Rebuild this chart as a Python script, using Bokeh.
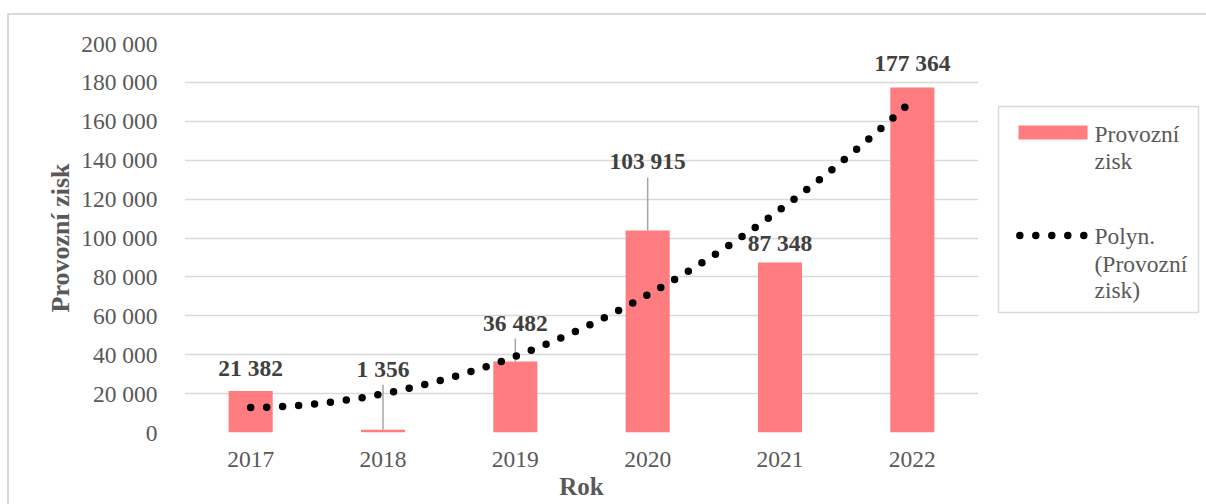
import numpy as np
from bokeh.plotting import figure
from bokeh.layouts import row
from bokeh.models import Range1d, FixedTicker, ColumnDataSource, LabelSet
from bokeh.core.properties import value
from bokeh.embed import file_html
from bokeh.resources import INLINE

# --- data -------------------------------------------------------------
years = ["2017", "2018", "2019", "2020", "2021", "2022"]
provozni_zisk = [21382, 1356, 36482, 103915, 87348, 177364]
y_ticks = [0, 20000, 40000, 60000, 80000, 100000, 120000, 140000, 160000, 180000, 200000]
y_tick_labels = ["0", "20 000", "40 000", "60 000", "80 000", "100 000",
                 "120 000", "140 000", "160 000", "180 000", "200 000"]
series_name = "Provozní zisk"
series_legend_lines = ["Provozní", "zisk"]
trend_legend_lines = ["Polyn.", "(Provozní", "zisk)"]

# --- styling ----------------------------------------------------------
FONT = "Liberation Serif"
BAR_COLOR = "#FF7C80"
GRID_COLOR = "#D9D9D9"
TEXT_COLOR = "#595959"
LABEL_COLOR = "#404040"
Y_MAX = 200000
FRAME_H = 389
CANVAS_H = 489
BORDER_TOP = 28
BORDER_BOTTOM = CANVAS_H - BORDER_TOP - FRAME_H
PAGE_TOP = 15          # page offset of both canvases (margin + border line)
MAIN_W = 969
DOT_W = 7.5
DOT_DASH = "0 16"

# distance (px) of each value label above its bar; lifted ones get a leader line
label_lift = [23, 61, 39, 69, 20, 25]
has_leader = [False, True, True, True, False, False]

x = np.arange(len(years))
values = np.array(provozni_zisk, dtype=float)


def fmt(v):
    return f"{int(v):,}".replace(",", " ")


px_to_data = Y_MAX / FRAME_H
leader_top = [v + (lift - 16) * px_to_data for v, lift in zip(values, label_lift)]

src = ColumnDataSource(dict(
    x=x, y=values, label=[fmt(v) for v in values], lift=label_lift,
))
lead_src = ColumnDataSource(dict(
    x=[xi for xi, h in zip(x, has_leader) if h],
    y0=[v for v, h in zip(values, has_leader) if h],
    y1=[t for t, h in zip(leader_top, has_leader) if h],
))

# second-order polynomial trend through the yearly values
coef = np.polyfit(x, values, 2)
tx = np.linspace(x[0], x[-1], 400)
trend_src = ColumnDataSource(dict(x=tx, y=np.polyval(coef, tx)))

# --- main chart -------------------------------------------------------
p = figure(width=MAIN_W, height=CANVAS_H, output_backend="svg", toolbar_location=None,
           x_range=Range1d(-0.5, len(years) - 0.5), y_range=Range1d(0, Y_MAX),
           min_border_left=175, min_border_right=0,
           min_border_top=BORDER_TOP, min_border_bottom=BORDER_BOTTOM)
p.outline_line_color = None
p.background_fill_color = "white"
p.border_fill_color = "white"

p.xgrid.grid_line_color = None
p.ygrid.grid_line_color = GRID_COLOR
p.ygrid.grid_line_width = 1.5
p.yaxis.ticker = FixedTicker(ticks=y_ticks)
p.yaxis.major_label_overrides = {t: s for t, s in zip(y_ticks, y_tick_labels)}
p.xaxis.ticker = FixedTicker(ticks=list(x))
p.xaxis.major_label_overrides = {int(i): yr for i, yr in zip(x, years)}

for ax in (p.xaxis[0], p.yaxis[0]):
    ax.axis_line_color = None
    ax.major_tick_line_color = None
    ax.minor_tick_line_color = None
    ax.major_label_text_font = FONT
    ax.major_label_text_font_size = "23.5px"
    ax.major_label_text_color = TEXT_COLOR
    ax.axis_label_text_font = FONT
    ax.axis_label_text_font_style = "bold"
    ax.axis_label_text_color = TEXT_COLOR

p.xaxis.axis_label = "Rok"
p.xaxis.axis_label_text_font_size = "25px"
p.xaxis.major_label_standoff = 13
p.xaxis.axis_label_standoff = 3
p.yaxis.axis_label = series_name
p.yaxis.axis_label_text_font_size = "26px"
p.yaxis.major_label_standoff = 21
p.yaxis.axis_label_standoff = 3

p.vbar(x="x", top="y", width=0.333, bottom=0, source=src,
       fill_color=BAR_COLOR, line_color=None)

p.segment(x0="x", y0="y0", x1="x", y1="y1", source=lead_src,
          line_color="#A6A6A6", line_width=1.5)

p.line("x", "y", source=trend_src, line_color="black", line_width=DOT_W,
       line_dash=DOT_DASH, line_cap="round")

p.add_layout(LabelSet(x="x", y="y", text="label", y_offset="lift", source=src,
                      text_font=FONT, text_font_size="23.5px", text_font_style="bold",
                      text_color=LABEL_COLOR, text_align="center",
                      text_baseline="middle"))

# --- legend panel: coordinates are page pixels (y downwards) ------------
LEG_X0 = 9 + MAIN_W
leg_top = PAGE_TOP + BORDER_TOP
leg_bottom = leg_top + FRAME_H
leg = figure(width=1206 - LEG_X0, height=CANVAS_H, output_backend="svg",
             toolbar_location=None, x_axis_type=None, y_axis_type=None,
             x_range=Range1d(LEG_X0, 1206), y_range=Range1d(leg_bottom, leg_top),
             min_border_left=0, min_border_right=0,
             min_border_top=BORDER_TOP, min_border_bottom=BORDER_BOTTOM)
leg.grid.visible = False
leg.outline_line_color = None
leg.background_fill_color = "white"
leg.border_fill_color = "white"

leg.quad(left=[998], right=[1198], top=[106], bottom=[312],
         fill_color="white", line_color=GRID_COLOR, line_width=1.5)
leg.quad(left=[1018], right=[1087], top=[125], bottom=[139],
         fill_color=BAR_COLOR, line_color=None)
leg.line(x=[1019.3, 1085], y=[235, 235], line_color="black", line_width=DOT_W,
         line_dash=DOT_DASH, line_cap="round")

leg.text(x=[1094] * 2, y=[133, 160], text=series_legend_lines,
         text_font=value(FONT), text_font_size="23.5px", text_color=TEXT_COLOR,
         text_baseline="middle", text_align="left")
leg.text(x=[1094] * 3, y=[235, 263, 289], text=trend_legend_lines,
         text_font=value(FONT), text_font_size="23.5px", text_color=TEXT_COLOR,
         text_baseline="middle", text_align="left")

layout = row(p, leg, spacing=0, margin=(13, 0, 0, 7),
             styles={"border-top": "2px solid #D9D9D9",
                     "border-left": "2px solid #D9D9D9"})

open("out.html", "w").write(file_html(layout, INLINE))
